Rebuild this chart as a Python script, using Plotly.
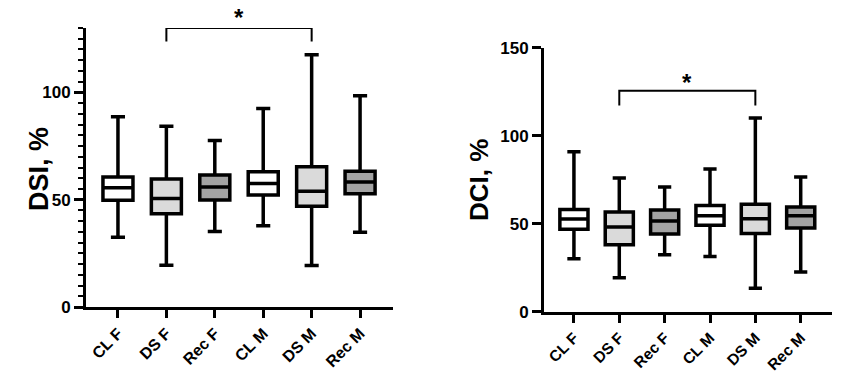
import plotly.graph_objects as go

categories = ["CL F", "DS F", "Rec F", "CL M", "DS M", "Rec M"]
fills = ["#ffffff", "#dadada", "#a3a3a3", "#ffffff", "#dadada", "#a3a3a3"]

# DSI (left panel)
dsi_low = [32.5, 19.4, 35.2, 37.9, 19.3, 34.8]
dsi_q1 = [49.7, 43.5, 49.8, 52.2, 47.0, 52.8]
dsi_med = [55.6, 50.5, 55.9, 57.5, 53.9, 58.2]
dsi_q3 = [60.6, 59.6, 61.5, 63.0, 65.4, 63.2]
dsi_high = [88.7, 84.2, 77.6, 92.5, 117.5, 98.4]

# DCI (right panel)
dci_low = [30.1, 19.3, 32.4, 31.3, 13.3, 22.5]
dci_q1 = [46.8, 38.1, 44.1, 49.1, 44.5, 47.5]
dci_med = [52.7, 48.1, 51.5, 54.5, 52.8, 54.5]
dci_q3 = [58.1, 56.6, 57.8, 60.4, 61.0, 59.5]
dci_high = [90.9, 75.9, 70.8, 81.1, 110.0, 76.5]

# significance brackets
sig_pair = ["DS F", "DS M"]
dsi_bracket = (123.7, 130.0, 135.0)   # end, bar, star
dci_bracket = (117.2, 125.6, 130.5)

FONT = "Liberation Sans, Arial, sans-serif"
FW, FH = 842, 378


def px(x):
    return x / FW


def py(y):
    return (FH - y) / FH


panels = {
    "": dict(xdom=[px(86), px(393)], ydom=[py(307), py(28)], yr=[0, 130]),
    "2": dict(xdom=[px(544), px(832)], ydom=[py(311.7), py(47.7)], yr=[0, 150]),
}

fig = go.Figure()


def add_panel(suffix, low, q1, med, q3, high, bracket):
    xa = "x" + suffix
    ya = "y" + suffix
    for i, c in enumerate(categories):
        fig.add_trace(go.Box(
            x=[c], q1=[q1[i]], median=[med[i]], q3=[q3[i]],
            lowerfence=[low[i]], upperfence=[high[i]],
            fillcolor=fills[i], line=dict(color="black", width=3.5),
            width=0.62, whiskerwidth=0.47, boxpoints=False,
            showlegend=False, xaxis=xa, yaxis=ya, hoverinfo="skip"))
    end, bar, star = bracket
    fig.add_trace(go.Scatter(
        x=[sig_pair[0], sig_pair[0], sig_pair[1], sig_pair[1]],
        y=[end, bar, bar, end], mode="lines",
        line=dict(color="black", width=2), cliponaxis=False,
        showlegend=False, xaxis=xa, yaxis=ya, hoverinfo="skip"))
    mid = (categories.index(sig_pair[0]) + categories.index(sig_pair[1])) / 2
    p = panels[suffix]
    ydom, yr = p["ydom"], p["yr"]
    ypaper = ydom[0] + (star - yr[0]) / (yr[1] - yr[0]) * (ydom[1] - ydom[0])
    fig.add_annotation(x=mid, y=ypaper, xref=xa, yref="paper", text="*",
                       showarrow=False, yanchor="middle", borderpad=0,
                       font=dict(family=FONT, size=24, color="black", weight="bold"))


add_panel("", dsi_low, dsi_q1, dsi_med, dsi_q3, dsi_high, dsi_bracket)
add_panel("2", dci_low, dci_q1, dci_med, dci_q3, dci_high, dci_bracket)

tickfont_y = dict(family=FONT, size=17, color="black", weight="bold")
xcommon = dict(type="category", categoryorder="array", categoryarray=categories,
               showline=True, linewidth=3, linecolor="black",
               ticks="outside", ticklen=8, tickwidth=3, tickcolor="black",
               tickangle=-45, showgrid=False, zeroline=False, fixedrange=True,
               automargin=False)
ycommon = dict(showline=True, linewidth=3, linecolor="black",
               ticks="outside", ticklen=9, tickwidth=2.5, tickcolor="black",
               showgrid=False, zeroline=False, tickfont=tickfont_y,
               tick0=0, dtick=50, fixedrange=True, automargin=False)

fig.update_layout(
    width=FW, height=FH, margin=dict(l=0, r=0, t=0, b=0, autoexpand=False),
    paper_bgcolor="white", plot_bgcolor="white", boxmode="overlay",
    xaxis=dict(**xcommon, domain=panels[""]["xdom"], range=[-0.66, 5.68],
               anchor="y", tickfont=dict(family=FONT, size=16, color="black", weight="bold")),
    yaxis=dict(**ycommon, domain=panels[""]["ydom"], range=panels[""]["yr"],
               anchor="x",
               minor=dict(ticks="outside", dtick=5, ticklen=5, tickwidth=2, tickcolor="black", showgrid=False)),
    xaxis2=dict(**xcommon, domain=panels["2"]["xdom"], range=[-0.66, 5.69],
                anchor="y2", tickfont=dict(family=FONT, size=15.5, color="black", weight="bold")),
    yaxis2=dict(**ycommon, domain=panels["2"]["ydom"], range=panels["2"]["yr"],
                anchor="x2"),
)

fig.add_annotation(x=px(22), y=py(169), xref="paper", yref="paper",
                   text="DSI, %", textangle=-90, showarrow=False,
                   font=dict(family=FONT, size=27, color="black", weight="bold"))
fig.add_annotation(x=px(479), y=py(180), xref="paper", yref="paper",
                   text="DCI, %", textangle=-90, showarrow=False,
                   font=dict(family=FONT, size=26, color="black", weight="bold"))

fig.write_html("out.html", config={"displayModeBar": False},
               post_script="document.body.style.margin='0px';document.body.style.overflow='hidden';")
